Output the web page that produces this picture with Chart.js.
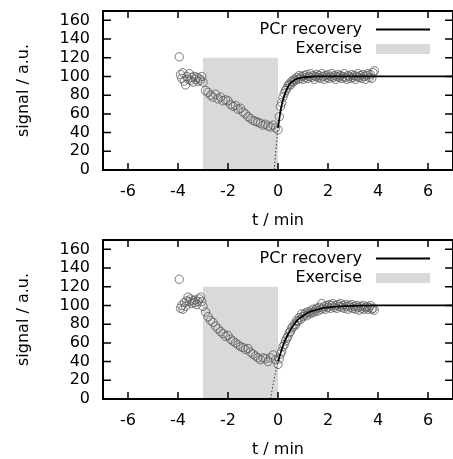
<!DOCTYPE html>
<html>
<head>
<meta charset="utf-8">
<style>
	html, body { margin: 0; padding: 0; background: #fff; }
	canvas { display: block; }
</style>
</head>
<body>
<canvas id="top" width="453" height="229"></canvas>
<canvas id="bottom" width="453" height="229"></canvas>

<script src="https://cdn.jsdelivr.net/npm/chart.js@4.4.1/dist/chart.umd.min.js"></script>
<script type="text/javascript">
	// Оси
	var xTicks = [-6, -4, -2, 0, 2, 4, 6];
	var yTicks = [0, 20, 40, 60, 80, 100, 120, 140, 160];

	// Время измерений, мин (общее для обоих графиков)
	var preTime = [-3.95, -3.9, -3.85, -3.8, -3.75, -3.7, -3.65, -3.6, -3.55, -3.5,
		-3.45, -3.4, -3.35, -3.3, -3.25, -3.2, -3.15, -3.1, -3.05, -3.0];
	var exTime = [-2.9, -2.8, -2.7, -2.6, -2.5, -2.4, -2.3, -2.2, -2.1, -2.0,
		-1.9, -1.8, -1.7, -1.6, -1.5, -1.4, -1.3, -1.2, -1.1, -1.0,
		-0.9, -0.8, -0.7, -0.6, -0.5, -0.4, -0.3, -0.2, -0.1, 0.0];
	var recTime = [0.05, 0.1, 0.15, 0.2, 0.25, 0.3, 0.35, 0.4, 0.45, 0.5,
		0.55, 0.6, 0.65, 0.7, 0.75, 0.8, 0.85, 0.9, 0.95, 1.0,
		1.05, 1.1, 1.15, 1.2, 1.25, 1.3, 1.35, 1.4, 1.45, 1.5,
		1.55, 1.6, 1.65, 1.7, 1.75, 1.8, 1.85, 1.9, 1.95, 2.0,
		2.05, 2.1, 2.15, 2.2, 2.25, 2.3, 2.35, 2.4, 2.45, 2.5,
		2.55, 2.6, 2.65, 2.7, 2.75, 2.8, 2.85, 2.9, 2.95, 3.0,
		3.05, 3.1, 3.15, 3.2, 3.25, 3.3, 3.35, 3.4, 3.45, 3.5,
		3.55, 3.6, 3.65, 3.7, 3.75, 3.8, 3.85];

	// Верхний график: сигнал
	var topPre = [121, 102, 98, 104, 95, 91, 100, 97, 103, 96, 99, 94, 100, 97, 99, 95, 98, 96, 100, 94];
	var topEx = [85, 83, 80, 78, 81, 76, 78, 74, 75, 74, 70, 68, 69, 65, 66, 62, 60, 57, 55, 53,
		52, 51, 50, 48, 49, 47, 46, 48, 45, 43];
	var topRec = [57, 68, 72, 78, 82, 85, 87, 90, 92, 91,
		95, 94, 97, 96, 99, 97, 101, 98, 100, 97,
		101, 99, 102, 98, 100, 103, 99, 101, 97, 100,
		102, 99, 101, 98, 103, 100, 97, 101, 99, 102,
		98, 100, 103, 99, 101, 97, 100, 102, 99, 101,
		98, 100, 103, 99, 97, 101, 100, 98, 102, 99,
		101, 97, 100, 103, 99, 101, 98, 102, 100, 97,
		101, 103, 99, 102, 98, 104, 106];
	// Верхний график: аппроксимация
	var topFitTime = [0, 0.1, 0.2, 0.3, 0.4, 0.5, 0.6, 0.7, 0.8, 1.0, 1.2, 1.5, 2, 3, 7];
	var topFit = [45, 63, 75, 83, 89, 93, 95, 97, 98, 99, 99.5, 100, 100, 100, 100];
	var topBackTime = [-0.15, -0.1, -0.05, 0];
	var topBack = [0, 17, 32, 45];

	// Нижний график: сигнал
	var bottomPre = [128, 97, 100, 96, 103, 99, 105, 109, 104, 107, 102, 105, 103, 106, 101, 104, 107, 109, 104, 99];
	var bottomEx = [93, 88, 84, 82, 78, 75, 72, 70, 67, 68, 64, 62, 60, 58, 56, 55, 53, 54, 50, 48,
		46, 44, 42, 44, 43, 40, 44, 47, 42, 37];
	var bottomRec = [43, 48, 51, 56, 58, 62, 65, 67, 71, 72,
		76, 77, 80, 79, 84, 83, 87, 85, 91, 88,
		90, 92, 89, 93, 91, 94, 92, 96, 93, 95,
		97, 94, 98, 96, 102, 97, 99, 96, 100, 98,
		101, 97, 100, 102, 98, 100, 97, 101, 99, 102,
		98, 100, 97, 101, 99, 96, 100, 98, 101, 97,
		99, 96, 100, 98, 95, 99, 97, 100, 96, 98,
		99, 96, 98, 100, 96, 97, 95];
	// Нижний график: аппроксимация
	var bottomFitTime = [0, 0.2, 0.4, 0.6, 0.8, 1.0, 1.25, 1.5, 1.75, 2.0, 2.5, 3, 4, 7];
	var bottomFit = [40, 57, 69, 78, 85, 89, 93, 95, 97, 98, 99, 99.5, 100, 100];
	var bottomBackTime = [-0.3, -0.2, -0.1, 0];
	var bottomBack = [0, 15, 28, 40];

	// Нагрузка
	var exerciseTime = [-3, 0];
	var exerciseLevel = [120, 120];

	var fontFamily = '"DejaVu Sans", sans-serif';

	function pts(xs, ys){
		return xs.map(function(x, i){ return {x: x, y: ys[i]}; });
	}

	// Рамка и засечки внутрь со всех сторон
	var framePlugin = {
		id: 'frame',
		afterDatasetsDraw: function(chart){
			var ctx = chart.ctx, a = chart.chartArea;
			var xs = chart.scales.x, ys = chart.scales.y;
			ctx.save();
			ctx.strokeStyle = '#000';
			ctx.lineWidth = 1.5;
			ctx.beginPath();
			xTicks.forEach(function(v){
				var px = xs.getPixelForValue(v);
				ctx.moveTo(px, a.bottom); ctx.lineTo(px, a.bottom - 7);
				ctx.moveTo(px, a.top); ctx.lineTo(px, a.top + 7);
			});
			yTicks.forEach(function(v){
				var py = ys.getPixelForValue(v);
				ctx.moveTo(a.left, py); ctx.lineTo(a.left + 8, py);
				ctx.moveTo(a.right, py); ctx.lineTo(a.right - 8, py);
			});
			ctx.stroke();
			ctx.lineWidth = 2;
			ctx.strokeRect(a.left, a.top, a.right - a.left, a.bottom - a.top);
			ctx.restore();
		}
	};

	// Легенда в стиле gnuplot: текст слева, образец справа
	var keyPlugin = {
		id: 'key',
		afterDraw: function(chart){
			var ctx = chart.ctx, a = chart.chartArea;
			var rows = chart.data.datasets.filter(function(d){ return d.key; });
			ctx.save();
			ctx.font = '16px ' + fontFamily;
			ctx.textAlign = 'right';
			ctx.textBaseline = 'middle';
			ctx.fillStyle = '#000';
			rows.forEach(function(d, i){
				var y = a.top + 18.5 + i * 19.5;
				ctx.fillText(d.label, a.right - 91, y);
				if(d.key == 'line'){
					ctx.strokeStyle = d.borderColor;
					ctx.lineWidth = d.borderWidth;
					ctx.beginPath();
					ctx.moveTo(a.right - 77, y);
					ctx.lineTo(a.right - 23, y);
					ctx.stroke();
				} else {
					ctx.fillStyle = d.backgroundColor;
					ctx.fillRect(a.right - 77, y - 5, 54, 10);
					ctx.fillStyle = '#000';
				}
			});
			ctx.restore();
		}
	};

	function makeChart(id, pre, ex, rec, fitTime, fit, backTime, back){
		var points = pts(preTime, pre).concat(pts(exTime, ex), pts(recTime, rec));
		return new Chart(document.getElementById(id), {
			type: 'scatter',
			data: {
				datasets: [{
					label: 'PCr recovery',
					key: 'line',
					data: pts(fitTime, fit),
					showLine: true,
					cubicInterpolationMode: 'monotone',
					borderColor: '#000',
					borderWidth: 1.8,
					pointRadius: 0
				}, {
					label: 'extrapolation',
					data: pts(backTime, back),
					showLine: true,
					borderColor: '#333',
					borderWidth: 1,
					borderDash: [1.5, 2],
					pointRadius: 0
				}, {
					label: 'signal',
					data: points,
					pointStyle: 'circle',
					pointRadius: 4.2,
					borderColor: '#5a5a5a',
					borderWidth: 0.8,
					backgroundColor: 'rgba(0,0,0,0)'
				}, {
					label: 'Exercise',
					key: 'box',
					data: pts(exerciseTime, exerciseLevel),
					showLine: true,
					fill: 'origin',
					borderWidth: 0,
					borderColor: 'rgba(0,0,0,0)',
					backgroundColor: '#d9d9d9',
					pointRadius: 0
				}]
			},
			options: {
				responsive: false,
				animation: false,
				devicePixelRatio: 1,
				layout: { autoPadding: false, padding: { top: 11, left: 0, right: 0, bottom: 0 } },
				plugins: {
					legend: { display: false },
					tooltip: { enabled: false }
				},
				scales: {
					x: {
						type: 'linear',
						min: -7,
						max: 7,
						afterBuildTicks: function(s){ s.ticks = xTicks.map(function(v){ return {value: v}; }); },
						afterFit: function(s){ s.height = 59; s.paddingLeft = 0; s.paddingRight = 0; },
						grid: { display: false, drawTicks: false },
						border: { display: false },
						ticks: { autoSkip: false, maxRotation: 0, color: '#000', padding: 12, font: { family: fontFamily, size: 16 } },
						title: {
							display: true,
							text: 't / min',
							color: '#000',
							padding: 0,
							font: { family: fontFamily, size: 16, lineHeight: 1 }
						}
					},
					y: {
						type: 'linear',
						min: 0,
						max: 170,
						afterBuildTicks: function(s){ s.ticks = yTicks.map(function(v){ return {value: v}; }); },
						afterFit: function(s){ s.width = 103; s.paddingTop = 0; s.paddingBottom = 0; },
						grid: { display: false, drawTicks: false },
						border: { display: false },
						ticks: { autoSkip: false, color: '#000', padding: 13, font: { family: fontFamily, size: 16 } },
						title: {
							display: true,
							text: 'signal / a.u.',
							color: '#000',
							padding: { top: 16, bottom: 0 },
							font: { family: fontFamily, size: 16, lineHeight: 1 }
						}
					}
				}
			},
			plugins: [framePlugin, keyPlugin]
		});
	}

	makeChart('top', topPre, topEx, topRec, topFitTime, topFit, topBackTime, topBack);
	makeChart('bottom', bottomPre, bottomEx, bottomRec, bottomFitTime, bottomFit, bottomBackTime, bottomBack);
</script>
</body>
</html>
